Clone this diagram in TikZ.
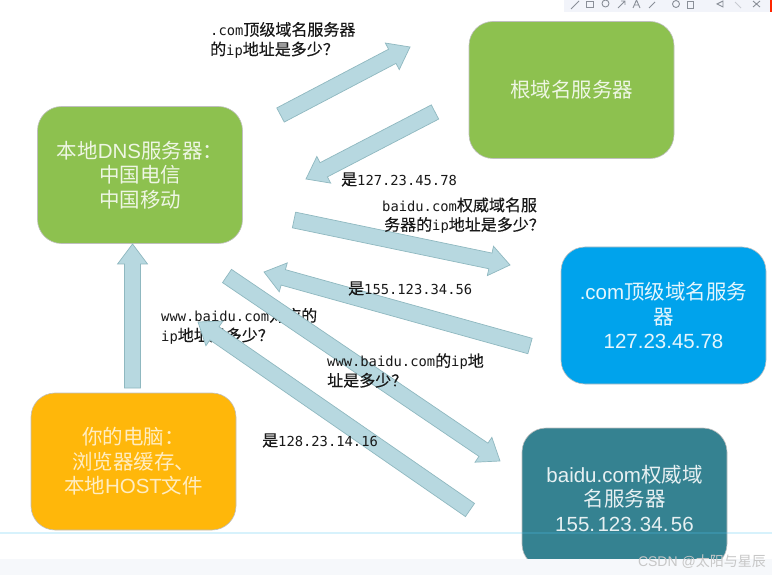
\documentclass[tikz,border=0pt]{standalone}
\usepackage{fontspec}
\setmainfont{Liberation Sans}
\setmonofont{DejaVu Sans Mono}
\newfontfamily\cjk{Noto Sans CJK SC}
\newfontfamily\cjklabel[FakeBold=0.25]{Noto Sans CJK SC}
\usetikzlibrary{calc}
\newcommand{\C}[1]{{\cjk #1}}
\newcommand{\Q}[1]{{\fontsize{16}{19.6}\cjklabel #1}}
\newcommand{\fatarrow}[2]{%
  \coordinate (base) at ($(#2)!20pt!(#1)$);
  \draw[fatarrowstyle] ($(#1)!8pt!90:(#2)$) -- ($(base)!8pt!90:(#2)$) -- ($(base)!15pt!90:(#2)$) -- (#2)
    -- ($(base)!15pt!-90:(#2)$) -- ($(base)!8pt!-90:(#2)$) -- ($(#1)!8pt!-90:(#2)$) -- cycle;}
\definecolor{arrowfill}{HTML}{B7D8E0}
\definecolor{arrowline}{HTML}{8FB8C0}
\definecolor{boxgreen}{HTML}{8DC14F}
\definecolor{boxblue}{HTML}{00A3EC}
\definecolor{boxteal}{HTML}{358291}
\definecolor{boxorange}{HTML}{FFB70A}
\definecolor{stripcol}{HTML}{F6F8FB}
\definecolor{barcol}{HTML}{F2F4FA}
\definecolor{iconcol}{HTML}{8A8F98}
\tikzset{
  fatarrowstyle/.style={fill=arrowfill,draw=arrowline,line width=0.7pt,line join=miter},
  serverbox/.style={rounded corners=24pt,draw=black!25,line width=0.6pt,minimum width=205pt,minimum height=137pt,
    align=center,inner sep=0pt,text=white,font=\fontsize{20.5}{24.5}\selectfont},
  greenbox/.style={serverbox,fill=boxgreen,text=white!85!boxgreen},
  bluebox/.style={serverbox,fill=boxblue,text=white!90!boxblue},
  tealbox/.style={serverbox,fill=boxteal,text=white!88!boxteal},
  orangebox/.style={serverbox,fill=boxorange,text=white!75!boxorange},
  asklabel/.style={anchor=west,align=left,inner sep=0pt,text=black!90,font=\ttfamily\fontsize{13.8}{19.6}\selectfont},
  toolicon/.style={draw=iconcol,line width=0.9pt},
}
\begin{document}
\begin{tikzpicture}[x=1pt,y=-1pt]
\useasboundingbox (0,0) rectangle (772,575);
\fill[white] (0,0) rectangle (772,575);
% boxes
\node[greenbox] (dns) at (140,175) {\C{本地}DNS\C{服务器：}\\\C{中国电信}\\\C{中国移动}};
\node[greenbox] (root) at (571.5,90) {\C{根域名服务器}};
\node[bluebox] (com) at (663.5,315.5) {.com\C{顶级域名服务}\\\C{器}\\127.23.45.78};
\node[tealbox,minimum height=140pt] (auth) at (624.5,498) {baidu.com\C{权威域}\\\C{名服务器}\\155.\kern2.5pt123.\kern2.5pt34.\kern2.5pt56};
\node[orangebox] (pc) at (133.5,461.5) {\C{你的电脑：}\\\C{浏览器缓存、}\\\C{本地}HOST\C{文件}};
% label under the arrows
\node[asklabel] (q4) at (161,326) {www.baidu.com\Q{对应的}\\ip\Q{地址是多少？}};
% arrow ends
\coordinate (a1s) at (280.5,115); \coordinate (a1e) at (410,47);
\coordinate (a2s) at (435,112);   \coordinate (a2e) at (306,179);
\coordinate (a3s) at (294,220);   \coordinate (a3e) at (510,265);
\coordinate (a4s) at (530,346);   \coordinate (a4e) at (264,272);
\coordinate (a5s) at (227,276);   \coordinate (a5e) at (500,461);
\coordinate (a6s) at (470,510);   \coordinate (a6e) at (198,322);
\coordinate (a7s) at (132.5,388); \coordinate (a7e) at (132.5,244);
\fatarrow{a1s}{a1e}
\fatarrow{a2s}{a2e}
\fatarrow{a3s}{a3e}
\fatarrow{a4s}{a4e}
\fatarrow{a5s}{a5e}
\fatarrow{a6s}{a6e}
\fatarrow{a7s}{a7e}
% labels
\node[asklabel] (q1) at (210,40) {.com\Q{顶级域名服务器}\\\Q{的}ip\Q{地址是多少？}};
\node[asklabel] (r1) at (341,179.5) {\Q{是}127.23.45.78};
\node[asklabel] (q2) at (382,215.5) {baidu.com\Q{权威域名服}\\\hspace*{2pt}\Q{务器的}ip\Q{地址是多少？}};
\node[asklabel] (r2) at (348,288.5) {\Q{是}155.123.34.56};
\node[asklabel] (q3) at (327,370.5) {www.baidu.com\Q{的}ip\Q{地}\\\Q{址是多少？}};
\node[asklabel] (r3) at (262,440.5) {\Q{是}128.23.14.16};
% bottom page furniture
\draw[cyan!70!white,opacity=.22,line width=1.2pt] (0,533) -- (772,533);
\fill[stripcol] (0,559) rectangle (772,575);
\node[anchor=east,inner sep=0pt,text=black!22,font=\fontsize{14}{14}\selectfont] (mark) at (766,562) {CSDN @\C{太阳与星辰}};
% toolbar
\fill[barcol] (564,0) rectangle (772,12);
\fill[red!70!orange] (770,0) rectangle (772,12);
\draw[toolicon] (571,9) -- (579,1);
\draw[toolicon] (586,1) rectangle (593,7);
\draw[toolicon] (605.5,3.5) circle (3.5);
\draw[toolicon] (618,8) -- (625,1) (621,1) -- (625,1) -- (625,5);
\draw[toolicon] (633,8) -- (636.5,0) -- (640,8) (634.5,5) -- (638.5,5);
\draw[toolicon] (649,8) -- (655,2);
\draw[toolicon] (676,4) circle (3.5);
\draw[toolicon] (687,1) rectangle (693,8);
\draw[toolicon] (717,4) -- (723,1) -- (723,7) -- cycle;
\draw[toolicon,opacity=.4] (735,2) -- (741,8);
\draw[toolicon] (753,1) -- (760,7) (760,1) -- (753,7);
\end{tikzpicture}
\end{document}
